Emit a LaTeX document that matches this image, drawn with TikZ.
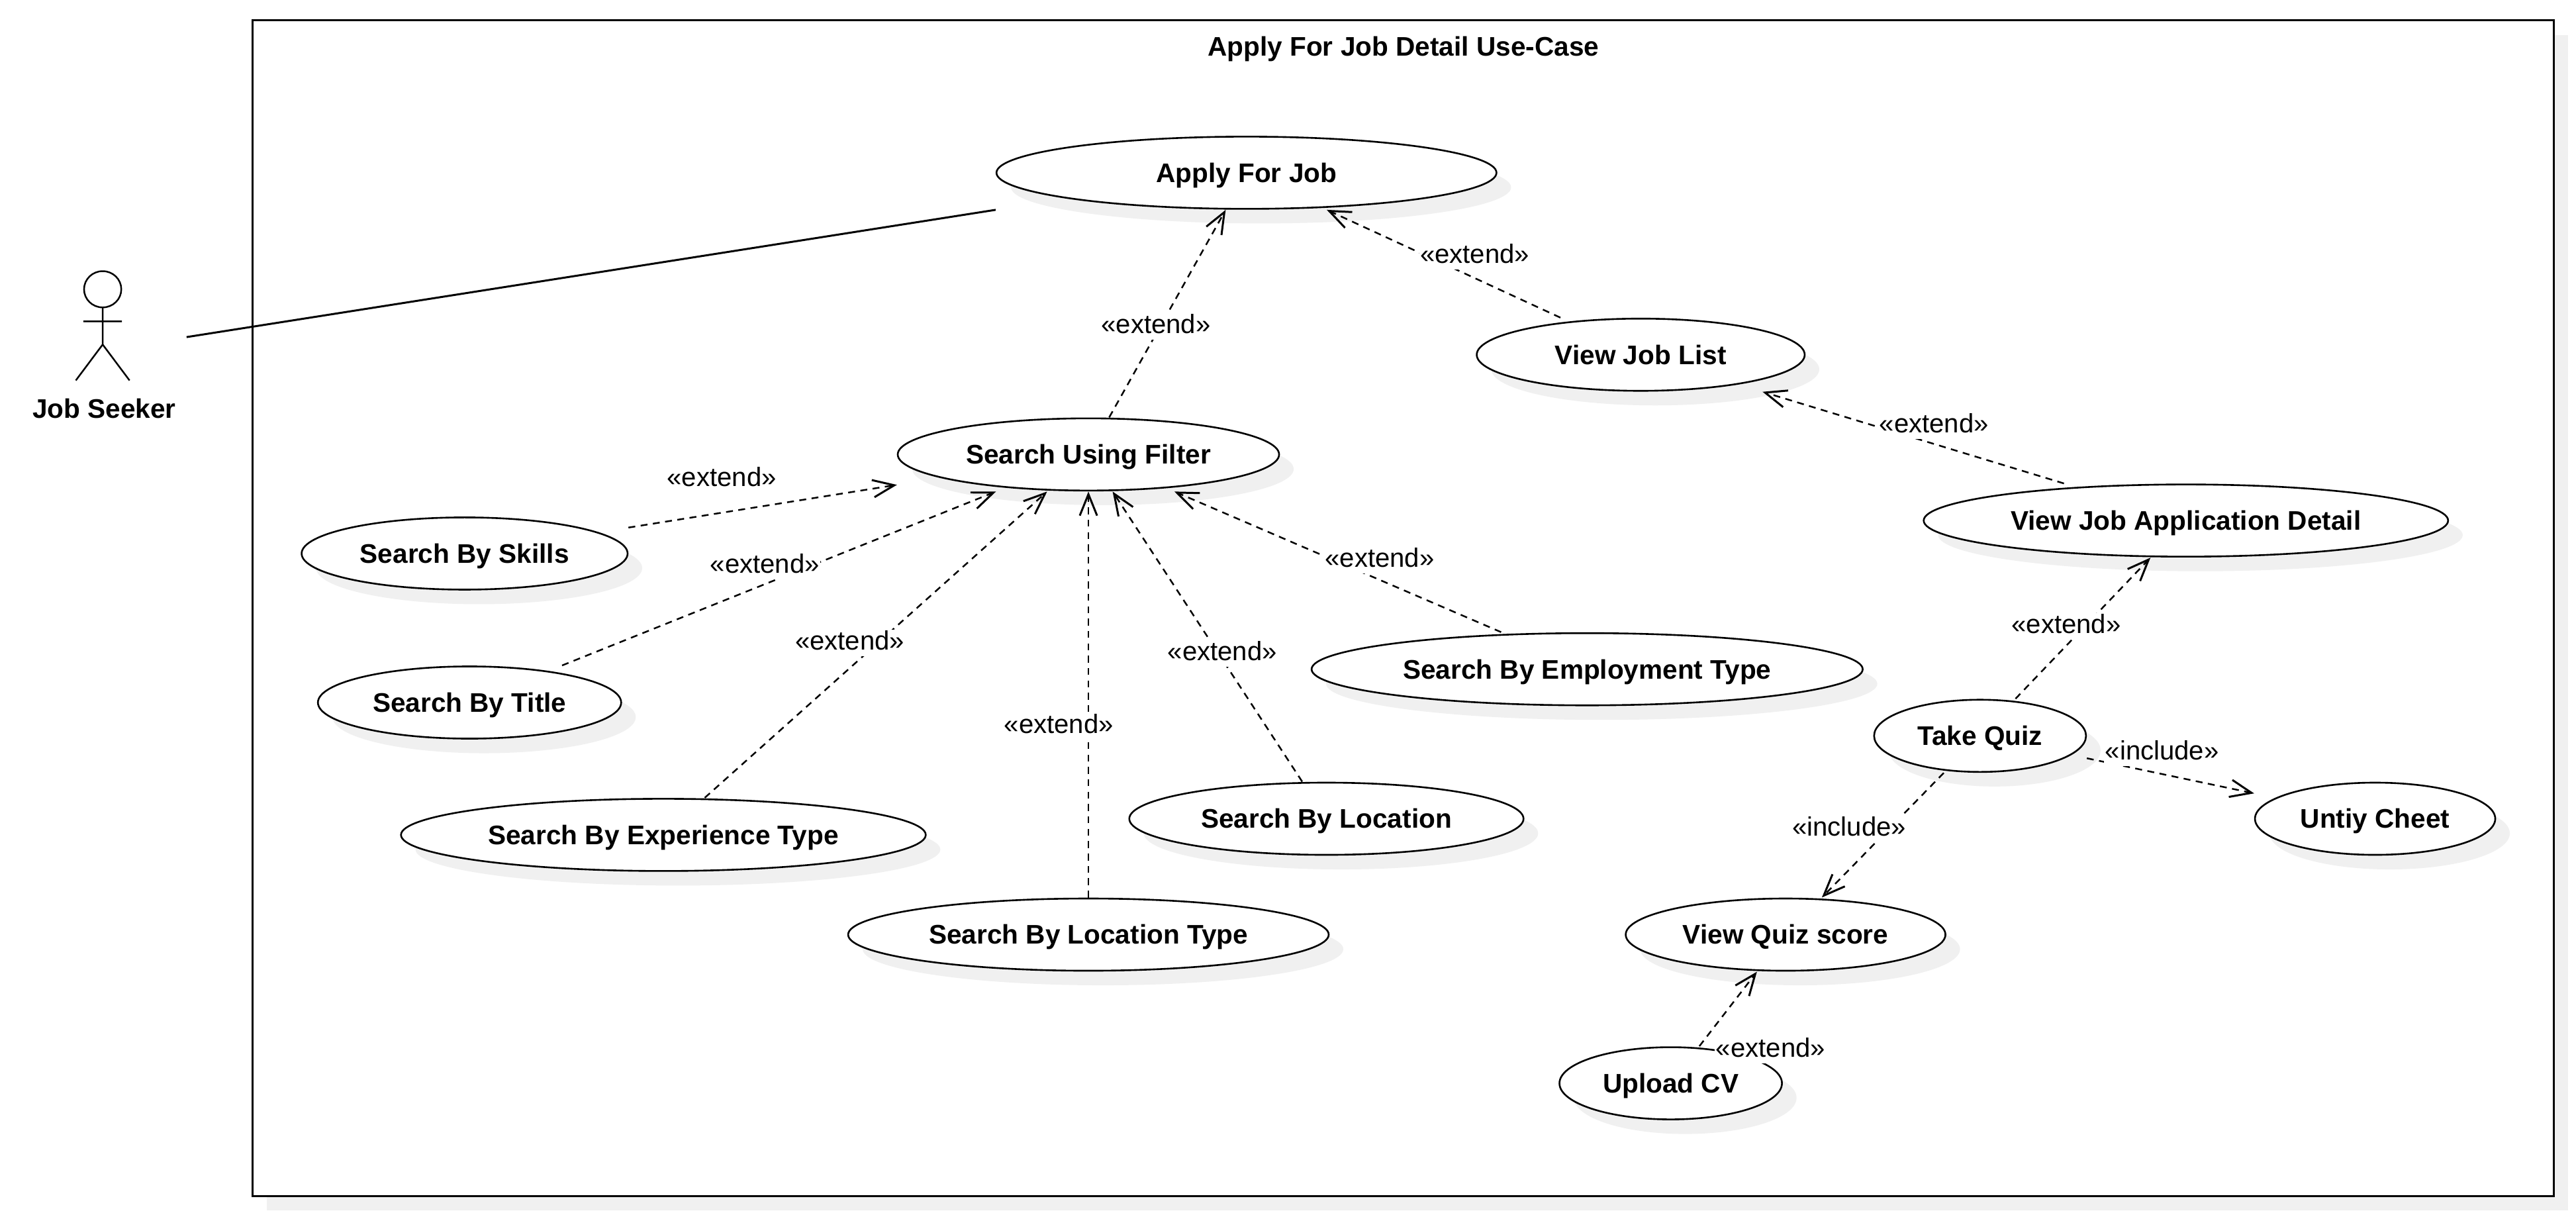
\documentclass[tikz,border=0pt]{standalone}
\usepackage{fontspec}
\setmainfont{Liberation Sans}
\usetikzlibrary{arrows.meta}
\definecolor{shadowgray}{HTML}{F0F0F0}
\tikzset{
  x=1pt,y=-1pt,
  every node/.style={inner sep=0pt,outer sep=0pt},
  shade fill/.style={fill=shadowgray,draw=none},
  outline/.style={draw=black,line width=1.05pt},
  frameline/.style={draw=black,line width=1.2pt},
  uctext/.style={rectangle,minimum height=44pt,outer sep=0.5pt,text height=11.6pt,text depth=0pt,font=\fontsize{16.3}{19}\selectfont\bfseries,align=center},
  boldtext/.style={anchor=base,font=\fontsize{16.3}{19}\selectfont\bfseries},
  dep/.style={draw=black,line width=1pt,dash pattern=on 4.2pt off 3.3pt,-{Straight Barb[length=13pt,width=10.5pt,line width=1.2pt]}},
  assoc/.style={draw=black,line width=1.2pt},
  deplabel/.style={anchor=base,fill=white,inner sep=0.6pt,text height=11.7pt,text depth=3.2pt,font=\fontsize{16.1}{19}\selectfont},
}
\newcommand{\usecase}[5]{%
  \fill[shade fill] (#2+8.84,#3+8.84) ellipse [x radius=#4,y radius=21.9];
  \draw[outline,fill=white] (#2,#3) ellipse [x radius=#4,y radius=21.9];
  \node[uctext,minimum width=2*#4 pt] (#1) at (#2,#3) {#5};
}
\begin{document}
\begin{tikzpicture}
\useasboundingbox (0,0) rectangle (1563,738.3);
% frame
\fill[shade fill] (161.9,21.1) rectangle (1558.2,734.3);
\draw[frameline,fill=white] (153.1,12.4) rectangle (1549.4,725.5);
\node[boldtext] (title) at (851.5,34.1) {Apply For Job Detail Use-Case};
% actor
\draw[line width=1pt] (62.3,175.5) ellipse [x radius=11.3,y radius=11];
\draw[line width=1pt] (62.3,186.5) -- (62.3,209) (50.6,195) -- (74,195) (46,230.8) -- (62.3,209) -- (78.6,230.8);
\node[rectangle,minimum width=101.4pt,minimum height=80pt] (actor) at (62.5,204.5) {};
\node[boldtext] (actorlabel) at (63.2,253.7) {Job Seeker};
% use cases
\usecase{apply}{756.3}{104.8}{151.7}{Apply For Job}
\usecase{joblist}{995.5}{215.2}{99.5}{View Job List}
\usecase{filter}{660.4}{275.7}{115.7}{Search Using Filter}
\usecase{appdetail}{1326.3}{315.8}{159.1}{View Job Application Detail}
\usecase{skills}{281.9}{335.8}{98.9}{Search By Skills}
\usecase{bytitle}{284.9}{426.2}{92}{Search By Title}
\usecase{experience}{402.5}{506.5}{159.2}{Search By Experience Type}
\usecase{loctype}{660.4}{567}{145.8}{Search By Location Type}
\usecase{location}{804.8}{496.7}{119.6}{Search By Location}
\usecase{employment}{963}{406}{167.2}{Search By Employment Type}
\usecase{quiz}{1201.4}{446.4}{64.3}{Take Quiz}
\usecase{cheet}{1441.1}{496.7}{72.9}{Untiy Cheet}
\usecase{score}{1083.4}{567}{97}{View Quiz score}
\usecase{upload}{1013.7}{657.2}{67.5}{Upload CV}
% connectors
\draw[assoc] (actor.east) -- (apply.south west);
\draw[dep] (filter) -- (apply);
\draw[dep] (joblist) -- (apply);
\draw[dep] (appdetail) -- (joblist);
\draw[dep] (skills) -- (filter);
\draw[dep] (bytitle) -- (filter);
\draw[dep] (experience) -- (filter);
\draw[dep] (loctype) -- (filter);
\draw[dep] (location) -- (filter);
\draw[dep] (employment) -- (filter);
\draw[dep] (quiz) -- (appdetail);
\draw[dep] (quiz) -- (cheet);
\draw[dep] (quiz) -- (score);
\draw[dep] (upload) -- (score);
% labels
\node[deplabel] (l1) at (701.4,202.4) {«extend»};
\node[deplabel] (l2) at (894.8,159.6) {«extend»};
\node[deplabel] (l3) at (1173.5,262.6) {«extend»};
\node[deplabel] (l4) at (437.9,295.2) {«extend»};
\node[deplabel] (l5) at (464.1,347.7) {«extend»};
\node[deplabel] (l6) at (515.6,394.3) {«extend»};
\node[deplabel] (l7) at (642.4,444.8) {«extend»};
\node[deplabel] (l8) at (741.6,400.7) {«extend»};
\node[deplabel] (l9) at (837.1,344.1) {«extend»};
\node[deplabel] (l10) at (1253.7,384.4) {«extend»};
\node[deplabel] (l11) at (1311.8,460.8) {«include»};
\node[deplabel] (l12) at (1122,507.2) {«include»};
\node[deplabel] (l13) at (1074.3,641.5) {«extend»};
\end{tikzpicture}
\end{document}
